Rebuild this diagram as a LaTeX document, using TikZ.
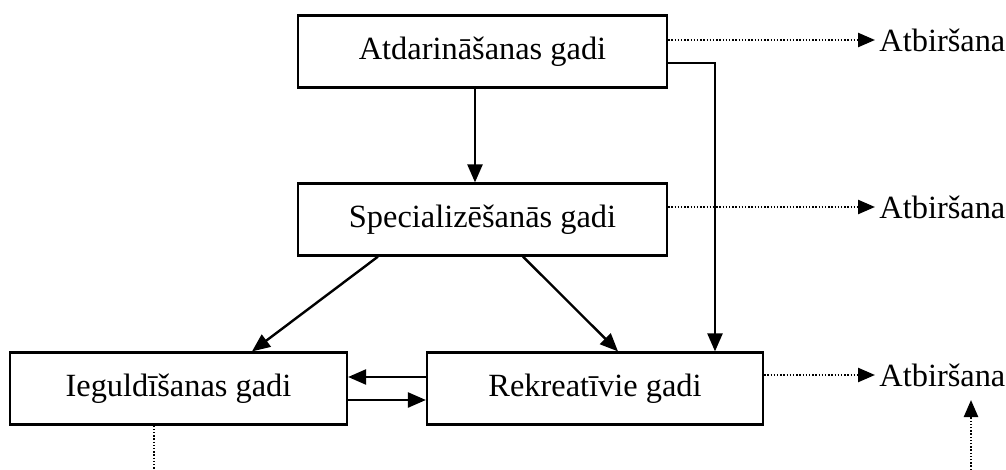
\documentclass[tikz,border=0pt]{standalone}
\usepackage{fontspec}
\setmainfont{Liberation Serif}
\usetikzlibrary{arrows.meta}
\tikzstyle{period} = [rectangle, minimum width=184.5pt, minimum height=36pt, text centered, draw=black, line width=1.1pt, font=\fontsize{16.2pt}{19pt}\selectfont]
\tikzstyle{endlabel} = [anchor=west, inner sep=2pt, font=\fontsize{16.2pt}{19pt}\selectfont]
\tikzstyle{arrow} = [line width=1.2pt,->,>={Triangle[length=9pt,width=7.5pt]}]
\tikzstyle{dotarrow} = [line width=1.2pt, dash pattern=on 0.7pt off 0.9pt,->,>={Triangle[length=8.5pt,width=7pt]}]

\begin{document}
\begin{tikzpicture}[node distance = 84pt]
  \useasboundingbox (0,0) rectangle (503pt,-235pt);
  \node (atdarin) [period] at (241.25pt,-25.75pt) {Atdarināšanas gadi};
  \node (special) [period, below of = atdarin] {Specializēšanās gadi};
  \node (ieguld) [period, minimum width=168.5pt, below of = special, xshift=-152pt, node distance=84.5pt] {Ieguldīšanas gadi};
  \node (rekreat) [period, minimum width=168pt, right of = ieguld, node distance=208.25pt] {Rekreatīvie gadi};

  \node (atb1) [endlabel] at (437.5pt,-20pt) {Atbiršana};
  \node (atb2) [endlabel] at (437.5pt,-103.5pt) {Atbiršana};
  \node (atb3) [endlabel] at (437.5pt,-187.5pt) {Atbiršana};

  \coordinate (low1) at (77pt,-235pt);
  \coordinate (low2) at (485.5pt,-235pt);

  \draw[arrow] ([xshift=-3.75pt]atdarin.south) -- ([xshift=-3.75pt]special.north);
  \draw[arrow] ([yshift=-5.75pt]atdarin.east) -| ([xshift=60pt]rekreat.north);
  \draw[arrow] ([xshift=-52.25pt]special.south) -- ([xshift=36.75pt]ieguld.north);
  \draw[arrow] ([xshift=20.25pt]special.south) -- ([xshift=11.5pt]rekreat.north);
  \draw[arrow] ([yshift=5.75pt]rekreat.west) -- ([yshift=5.75pt]ieguld.east);
  \draw[arrow] ([yshift=-5.75pt]ieguld.east) -- ([yshift=-5.75pt]rekreat.west);

  \draw[dotarrow] (atdarin.east |- atb1.west) -- (atb1.west);
  \draw[dotarrow] (special.east |- atb2.west) -- (atb2.west);
  \draw[dotarrow] (rekreat.east |- atb3.west) -- (atb3.west);
  \draw[dotarrow, -] (ieguld.south -| low1) -- (low1);
  \draw[dotarrow] (low2) -- ++(0,35pt);
\end{tikzpicture}
\end{document}
